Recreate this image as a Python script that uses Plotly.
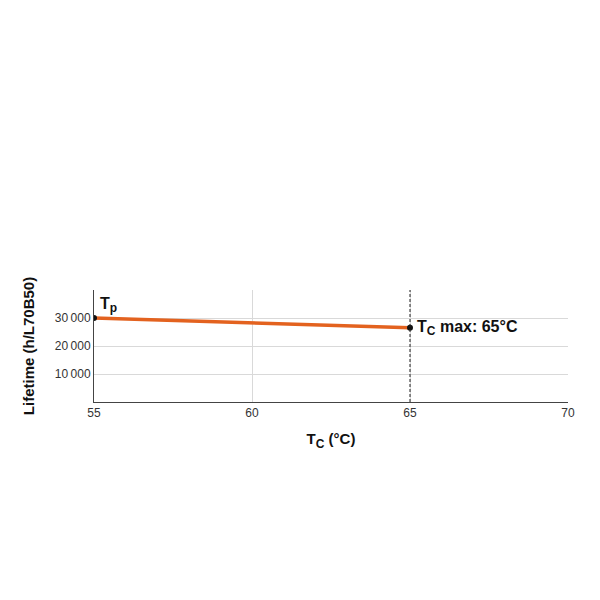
import plotly.graph_objects as go

temps = [55, 65]
lifetime = [30000, 26500]
x_ticks = [55, 60, 65, 70]
y_ticks = [10000, 20000, 30000]
y_tick_labels = ["10\u2009000", "20\u2009000", "30\u2009000"]
tc_max = 65

fig = go.Figure()
fig.add_trace(go.Scatter(x=temps, y=lifetime, mode="lines",
                         line=dict(color="#E3621F", width=3.5), hoverinfo="skip"))
fig.add_trace(go.Scatter(x=temps, y=lifetime, mode="markers",
                         marker=dict(color="#111111", size=6), hoverinfo="skip"))

fig.add_shape(type="line", x0=tc_max, x1=tc_max, y0=0, y1=1, yref="paper",
              line=dict(color="#222222", width=1, dash="3px,2px"))

sub_style = "font-size:12px"
fig.add_annotation(x=temps[0], y=lifetime[0],
                   text="<b>T<sub><span style='%s'>p</span></sub></b>" % sub_style,
                   showarrow=False, xanchor="left", yanchor="bottom",
                   xshift=4, yshift=1, font=dict(size=16, color="#111111"))
fig.add_annotation(x=temps[1], y=lifetime[1],
                   text="<b>T<sub><span style='%s'>C</span></sub> max: 65°C</b>" % sub_style,
                   showarrow=False, xanchor="left", yanchor="middle",
                   xshift=5, font=dict(size=16, color="#111111"))

fig.update_layout(
    width=600, height=600,
    margin=dict(l=86, r=40, t=282, b=206),
    paper_bgcolor="white", plot_bgcolor="white",
    showlegend=False,
    font=dict(family="Liberation Sans, Arial, sans-serif", size=12, color="#333333"),
)
fig.update_xaxes(range=[55, 70], tickvals=x_ticks, showgrid=True,
                 gridcolor="#D9D9D9", gridwidth=1, zeroline=False,
                 showline=True, linecolor="#444444", linewidth=1,
                 ticks="", tickfont=dict(size=12, color="#333333"),
                 title=dict(text="<b>T<sub><span style='%s'>C</span></sub> (°C)</b>" % sub_style,
                            font=dict(size=15, color="#111111"), standoff=14))
fig.update_yaxes(range=[0, 40000], tickvals=y_ticks, ticktext=y_tick_labels,
                 showgrid=True, gridcolor="#D9D9D9", gridwidth=1, zeroline=False,
                 showline=True, linecolor="#444444", linewidth=1,
                 ticks="", tickfont=dict(size=12, color="#333333"),
                 title=dict(text="<b>Lifetime (h/L70B50)</b>", font=dict(size=15, color="#111111"),
                            standoff=16))

fig.write_html("out.html")
